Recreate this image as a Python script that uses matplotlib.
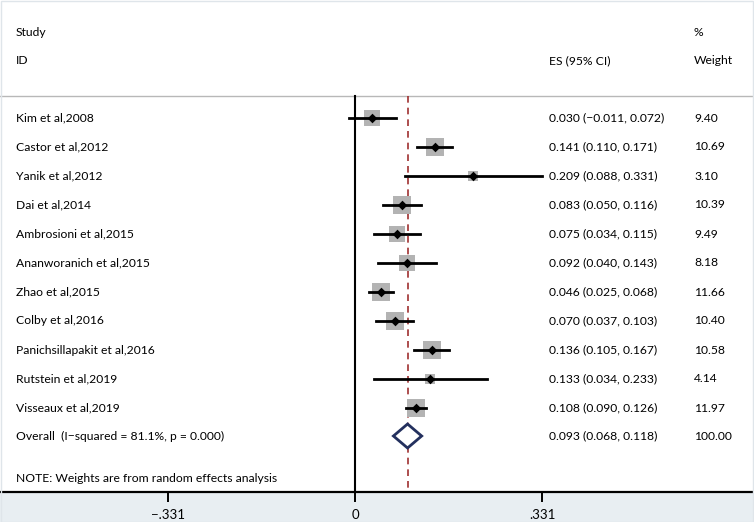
import numpy as np
import matplotlib.pyplot as plt
from matplotlib.transforms import blended_transform_factory
from matplotlib.patches import Rectangle

# study data
studies = ["Kim et al,2008", "Castor et al,2012", "Yanik et al,2012", "Dai et al,2014",
           "Ambrosioni et al,2015", "Ananworanich et al,2015", "Zhao et al,2015",
           "Colby et al,2016", "Panichsillapakit et al,2016", "Rutstein et al,2019",
           "Visseaux et al,2019"]
es = [0.030, 0.141, 0.209, 0.083, 0.075, 0.092, 0.046, 0.070, 0.136, 0.133, 0.108]
lo = [-0.011, 0.110, 0.088, 0.050, 0.034, 0.040, 0.025, 0.037, 0.105, 0.034, 0.090]
hi = [0.072, 0.171, 0.331, 0.116, 0.115, 0.143, 0.068, 0.103, 0.167, 0.233, 0.126]
weights = [9.40, 10.69, 3.10, 10.39, 9.49, 8.18, 11.66, 10.40, 10.58, 4.14, 11.97]

overall_label = "Overall  (I\u2212squared = 81.1%, p = 0.000)"
overall = (0.093, 0.068, 0.118)
overall_weight = "100.00"
note = "NOTE: Weights are from random effects analysis"
xticks = [-0.331, 0, 0.331]
xticklabels = ["\u2212.331", "0", ".331"]

plt.rcParams['font.family'] = ['Lato', 'DejaVu Sans']
fs = 8.7

W, H = 754, 522
AX_BOTTOM = 492  # pixel row of the x axis
fig = plt.figure(figsize=(W / 100, H / 100), dpi=100, facecolor='#e8eef2')
ax = fig.add_axes([0, (H - AX_BOTTOM) / H, 1, AX_BOTTOM / H])
ax.set_facecolor('white')
# 0 sits at x=355 px, 565 px per unit
ax.set_xlim(-355 / 565, (W - 355) / 565)
ax.set_ylim(AX_BOTTOM, 0)
for s in ['top', 'left', 'right']:
    ax.spines[s].set_visible(False)
ax.spines['bottom'].set_linewidth(1.6)
ax.set_yticks([])
ax.set_xticks(xticks)
ax.set_xticklabels(xticklabels, fontsize=9.5)
ax.tick_params(axis='x', direction='out', length=7.5, width=1.4, pad=5)

tr = blended_transform_factory(ax.transAxes, ax.transData)
X_ID, X_ES, X_W = 16 / W, 549 / W, 694 / W

# header
ax.text(X_ID, 32, "Study", transform=tr, fontsize=fs, va='center')
ax.text(X_ID, 61, "ID", transform=tr, fontsize=fs, va='center')
ax.text(X_ES, 61, "ES (95% CI)", transform=tr, fontsize=fs, va='center')
ax.text(X_W, 32, "%", transform=tr, fontsize=fs, va='center')
ax.text(X_W, 61, "Weight", transform=tr, fontsize=fs, va='center')
ax.plot([0, 0.997], [96, 96], transform=tr, color='#b8b8b8', lw=1)

y0, dy = 118, 29
ys = [y0 + i * dy for i in range(len(studies))]
y_over = y0 + len(studies) * dy - 1

ax.plot([0, 0], [96, AX_BOTTOM], color='black', lw=1.5)
ax.plot([overall[0], overall[0]], [96, AX_BOTTOM], color='#a03030', lw=1.2, ls=(0, (4, 3)))

for name, e, l, h, w, y in zip(studies, es, lo, hi, weights, ys):
    side = 5.3 * np.sqrt(w) * 0.72
    ax.scatter([e], [y], marker='s', s=side ** 2, color='#b3b3b3', lw=0, zorder=2)
    ax.plot([l, h], [y, y], color='black', lw=2, zorder=3)
    ax.scatter([e], [y], marker='D', s=24, color='black', lw=0, zorder=4)
    ax.text(X_ID, y, name, transform=tr, fontsize=fs, va='center')
    ax.text(X_ES, y, f"{e:.3f} ({l:.3f}, {h:.3f})".replace('-', '\u2212'),
            transform=tr, fontsize=fs, va='center')
    ax.text(X_W, y, f"{w:.2f}", transform=tr, fontsize=fs, va='center')

m, l, h = overall
ax.fill([l, m, h, m, l], [y_over, y_over - 12, y_over, y_over + 12, y_over],
        facecolor='white', edgecolor='#23305e', lw=2, zorder=4)
ax.text(X_ID, y_over, overall_label, transform=tr, fontsize=fs, va='center')
ax.text(X_ES, y_over, f"{m:.3f} ({l:.3f}, {h:.3f})", transform=tr, fontsize=fs, va='center')
ax.text(X_W, y_over, overall_weight, transform=tr, fontsize=fs, va='center')
ax.text(X_ID, 478, note, transform=tr, fontsize=fs, va='center')

# faint frame round the picture
fig.patches.append(Rectangle((0.5 / W, 0.5 / H), 1 - 2 / W, 1 - 1.5 / H, transform=fig.transFigure,
                             fill=False, edgecolor='#dfe5ea', lw=1))

fig.savefig('out.png', dpi=100, facecolor=fig.get_facecolor())
